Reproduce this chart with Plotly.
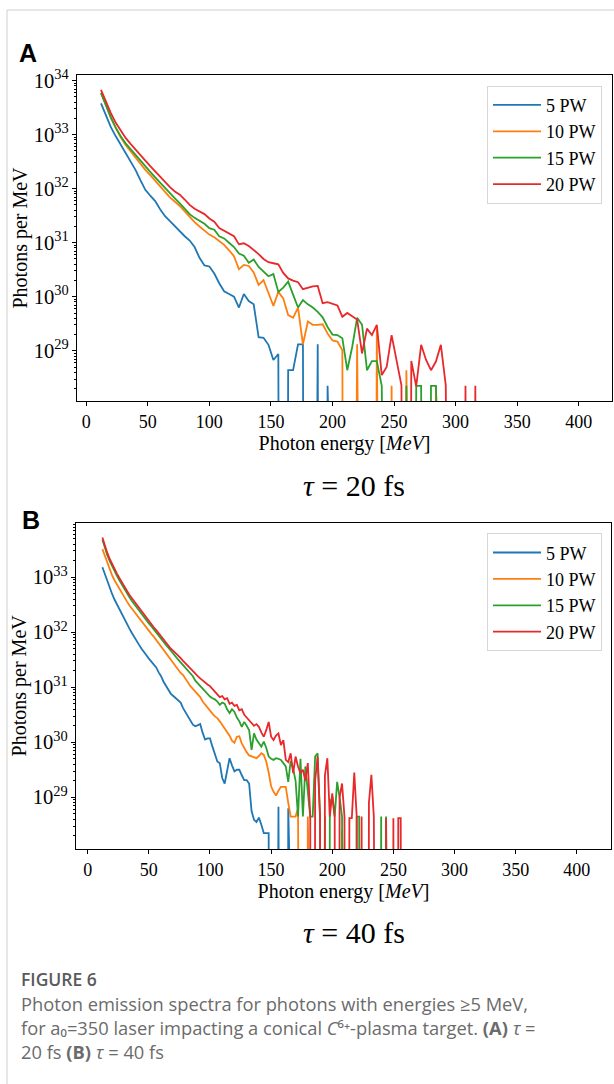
import plotly.graph_objects as go

# ---------------- data (log10 of photons per MeV; 0 = empty bin) ----------------
energy_A = [12, 16, 20, 24, 28, 32, 36, 40, 44, 48,
            52, 56, 60, 64, 68, 72, 76, 80, 84, 88,
            92, 96, 100, 104, 108, 112, 116, 120, 124, 128,
            132, 136, 140, 144, 148, 152, 156, 160, 164, 168,
            172, 176, 180, 184, 188, 192, 196, 200, 204, 208,
            212, 216, 220, 224, 228, 232, 236, 240, 244, 248,
            252, 256, 260, 264, 268, 272, 276, 280, 284, 288,
            292, 296, 300, 304, 308, 312, 316, 320]

A_5PW = [33.58, 33.35, 33.14, 32.97, 32.82, 32.66, 32.50, 32.35, 32.16, 31.98,
         31.87, 31.77, 31.62, 31.49, 31.40, 31.30, 31.20, 31.12, 31.04, 30.92,
         30.72, 30.58, 30.56, 30.43, 30.25, 30.10, 30.05, 30.00, 29.80, 30.05,
         29.92, 29.86, 29.25, 29.24, 29.11, 28.83, 28.94, 0, 28.64, 28.64,
         29.12, 29.12, 0, 0, 29.12, 0, 28.35, 0, 0, 0,
         0, 0, 0, 0, 0, 0, 0, 0, 0, 0,
         0, 0, 0, 0, 0, 0, 0, 0, 0, 0,
         0, 0, 0, 0, 0, 0, 0, 0]
A_10PW = [33.78, 33.53, 33.31, 33.12, 32.95, 32.81, 32.69, 32.57, 32.46, 32.35,
          32.25, 32.14, 32.04, 31.94, 31.84, 31.76, 31.68, 31.58, 31.47, 31.38,
          31.30, 31.22, 31.15, 31.10, 31.03, 30.96, 30.86, 30.75, 30.51, 30.59,
          30.57, 30.45, 30.22, 30.31, 30.07, 29.83, 30.09, 29.97, 29.66, 29.61,
          29.80, 29.12, 29.54, 29.48, 29.48, 29.49, 29.32, 29.19, 29.17, 29.01,
          0, 0, 29.12, 0, 0, 0, 29.40, 0, 0, 28.35,
          0, 0, 28.64, 0, 0, 0, 0, 0, 28.35, 0,
          0, 0, 0, 0, 0, 0, 0, 0]
A_15PW = [33.77, 33.53, 33.32, 33.13, 32.97, 32.84, 32.73, 32.62, 32.51, 32.41,
          32.31, 32.21, 32.11, 32.01, 31.91, 31.82, 31.73, 31.63, 31.53, 31.46,
          31.41, 31.35, 31.27, 31.24, 31.12, 31.08, 31.00, 30.92, 30.80, 30.76,
          30.63, 30.69, 30.55, 30.46, 30.38, 30.42, 30.09, 30.17, 30.28, 30.04,
          29.80, 29.94, 29.86, 29.80, 29.72, 29.62, 29.44, 29.30, 29.29, 29.23,
          28.64, 29.07, 29.61, 29.48, 28.64, 28.81, 28.81, 28.35, 0, 0,
          0, 0, 28.35, 0, 28.35, 28.35, 0, 28.35, 28.35, 0,
          0, 0, 0, 0, 0, 0, 0, 0]
A_20PW = [33.83, 33.60, 33.40, 33.22, 33.07, 32.94, 32.83, 32.72, 32.62, 32.52,
          32.42, 32.32, 32.22, 32.12, 32.03, 31.95, 31.89, 31.80, 31.70, 31.63,
          31.58, 31.53, 31.45, 31.39, 31.27, 31.22, 31.18, 31.12, 30.97, 30.99,
          30.94, 30.87, 30.79, 30.70, 30.64, 30.62, 30.60, 30.44, 30.34, 30.30,
          30.27, 30.14, 30.17, 30.19, 30.20, 29.88, 29.90, 29.87, 29.84, 29.63,
          29.70, 29.64, 29.58, 28.95, 29.41, 29.29, 29.48, 28.55, 28.70, 29.29,
          28.80, 28.36, 0, 28.81, 28.34, 29.11, 28.83, 28.64, 28.80, 29.11,
          28.36, 0, 0, 0, 28.35, 0, 28.35, 0]

energy_B = [12, 14, 16, 18, 20, 22, 24, 26, 28, 30,
            32, 34, 36, 38, 40, 42, 44, 46, 48, 50,
            52, 54, 56, 58, 60, 62, 64, 66, 68, 70,
            72, 74, 76, 78, 80, 82, 84, 86, 88, 90,
            92, 94, 96, 98, 100, 102, 104, 106, 108, 110,
            112, 114, 116, 118, 120, 122, 124, 126, 128, 130,
            132, 134, 136, 138, 140, 142, 144, 146, 148, 150,
            152, 154, 156, 158, 160, 162, 164, 166, 168, 170,
            172, 174, 176, 178, 180, 182, 184, 186, 188, 190,
            192, 194, 196, 198, 200, 202, 204, 206, 208, 210,
            212, 214, 216, 218, 220, 222, 224, 226, 228, 230,
            232, 234, 236, 238, 240, 242, 244, 246, 248, 250,
            252, 254, 256, 258]

B_5PW = [33.18, 33.05, 32.93, 32.80, 32.69, 32.59, 32.50, 32.40, 32.31, 32.23,
         32.15, 32.07, 31.99, 31.91, 31.84, 31.77, 31.70, 31.65, 31.58, 31.52,
         31.47, 31.42, 31.36, 31.27, 31.20, 31.10, 31.02, 30.94, 30.88, 30.84,
         30.80, 30.76, 30.72, 30.62, 30.55, 30.47, 30.40, 30.32, 30.29, 30.31,
         30.33, 30.17, 30.05, 30.07, 30.07, 29.92, 29.77, 29.65, 29.62, 29.35,
         29.25, 29.50, 29.71, 29.58, 29.47, 29.50, 29.50, 29.40, 29.31, 29.31,
         29.25, 28.75, 28.59, 28.55, 28.63, 28.50, 28.35, 28.35, 28.35, 0,
         0, 0, 28.83, 0, 0, 0, 28.80, 0, 0, 0,
         0, 0, 0, 0, 0, 0, 0, 0, 0, 0,
         0, 0, 0, 0, 0, 0, 0, 0, 0, 0,
         0, 0, 0, 0, 0, 0, 0, 0, 0, 0,
         0, 0, 0, 0, 0, 0, 0, 0, 0, 0,
         0, 0, 0, 0]
B_10PW = [33.51, 33.38, 33.26, 33.14, 33.03, 32.94, 32.86, 32.78, 32.70, 32.63,
          32.56, 32.49, 32.43, 32.37, 32.31, 32.25, 32.19, 32.13, 32.07, 32.02,
          31.97, 31.92, 31.86, 31.80, 31.74, 31.68, 31.63, 31.57, 31.51, 31.45,
          31.39, 31.31, 31.26, 31.22, 31.15, 31.08, 31.02, 30.97, 30.92, 30.87,
          30.82, 30.74, 30.68, 30.62, 30.57, 30.52, 30.47, 30.44, 30.38, 30.32,
          30.26, 30.20, 30.12, 30.03, 29.99, 30.10, 30.11, 29.98, 29.89, 29.82,
          29.76, 29.74, 29.72, 29.71, 29.75, 29.80, 29.77, 29.65, 29.45, 29.20,
          29.10, 29.03, 29.12, 29.19, 29.19, 29.19, 28.90, 28.65, 28.65, 28.65,
          28.80, 0, 0, 0, 28.65, 0, 0, 0, 0, 0,
          0, 0, 0, 0, 0, 0, 0, 0, 28.40, 0,
          0, 0, 0, 0, 0, 0, 0, 0, 0, 0,
          0, 0, 0, 0, 0, 0, 0, 0, 0, 0,
          0, 0, 0, 0]
B_15PW = [33.68, 33.53, 33.40, 33.29, 33.19, 33.10, 33.02, 32.94, 32.86, 32.78,
          32.71, 32.64, 32.57, 32.51, 32.44, 32.38, 32.32, 32.27, 32.21, 32.16,
          32.11, 32.05, 32.00, 31.94, 31.89, 31.83, 31.77, 31.72, 31.66, 31.60,
          31.55, 31.50, 31.45, 31.40, 31.35, 31.30, 31.25, 31.20, 31.12, 31.07,
          31.02, 30.96, 30.92, 30.88, 30.83, 30.80, 30.78, 30.74, 30.68, 30.72,
          30.70, 30.60, 30.53, 30.60, 30.55, 30.45, 30.38, 30.28, 30.37, 30.30,
          30.22, 29.86, 30.16, 30.05, 29.98, 29.92, 30.01, 29.90, 29.74, 29.70,
          29.68, 29.71, 29.70, 29.68, 29.62, 29.56, 29.28, 29.66, 29.52, 29.30,
          28.65, 29.70, 28.65, 29.56, 29.10, 28.65, 28.65, 29.74, 29.80, 28.65,
          0, 28.65, 0, 28.89, 29.01, 28.65, 29.28, 29.00, 28.65, 0,
          0, 0, 0, 0, 28.65, 28.65, 0, 0, 0, 0,
          0, 0, 0, 0, 28.65, 0, 28.65, 0, 0, 0,
          0, 0, 0, 0]
B_20PW = [33.72, 33.57, 33.44, 33.33, 33.23, 33.14, 33.06, 32.98, 32.90, 32.82,
          32.75, 32.68, 32.62, 32.56, 32.49, 32.43, 32.37, 32.31, 32.26, 32.20,
          32.15, 32.09, 32.04, 31.98, 31.92, 31.86, 31.80, 31.75, 31.70, 31.66,
          31.62, 31.58, 31.53, 31.48, 31.43, 31.38, 31.34, 31.30, 31.25, 31.20,
          31.16, 31.12, 31.08, 31.05, 31.02, 30.97, 30.93, 30.88, 30.82, 30.84,
          30.78, 30.80, 30.70, 30.72, 30.66, 30.68, 30.58, 30.60, 30.50, 30.45,
          30.40, 30.35, 30.30, 30.33, 30.28, 30.18, 30.10, 30.22, 30.37, 30.10,
          30.04, 30.12, 30.16, 29.95, 30.04, 29.68, 29.64, 29.80, 29.44, 29.74,
          29.56, 29.44, 29.50, 29.30, 29.62, 28.65, 0, 29.30, 29.74, 28.65,
          0, 29.40, 29.71, 28.65, 29.07, 28.65, 0, 29.00, 29.25, 28.65,
          0, 28.62, 28.62, 29.45, 28.65, 0, 28.65, 0, 0, 28.90,
          29.41, 28.65, 0, 0, 0, 0, 28.62, 0, 0, 28.62,
          0, 28.62, 28.62, 0]

series_names = ["5 PW", "10 PW", "15 PW", "20 PW"]
series_colors = ["#1f77b4", "#ff7f0e", "#2ca02c", "#e8282b"]

caption_title = "FIGURE 6"
caption_lines = [
    "Photon emission spectra for photons with energies ≥5 MeV,",
    "for a₀=350 laser impacting a conical <i>C</i>⁶⁺-plasma target. <b>(A)</b> <i>τ</i> =",
    "20 fs <b>(B)</b> <i>τ</i> = 40 fs",
]

W, H = 614, 1084
SERIF = "Liberation Serif"


def to_counts(logs):
    # empty bins -> far below the axis (like matplotlib's clipping of zeros on log scale)
    return [10 ** v if v > 0 else 1.0 for v in logs]


def px(x):
    return x / W


def py(y):
    return 1 - y / H


fig = go.Figure()
for name, color, vals in zip(series_names, series_colors, [A_5PW, A_10PW, A_15PW, A_20PW]):
    fig.add_trace(go.Scatter(x=energy_A, y=to_counts(vals), mode="lines", name=name,
                             line=dict(color=color, width=1.8), xaxis="x", yaxis="y",
                             legend="legend"))
for name, color, vals in zip(series_names, series_colors, [B_5PW, B_10PW, B_15PW, B_20PW]):
    fig.add_trace(go.Scatter(x=energy_B, y=to_counts(vals), mode="lines", name=name,
                             line=dict(color=color, width=1.8), xaxis="x2", yaxis="y2",
                             legend="legend2"))

xtickfont = dict(family=SERIF, size=18, color="black")
ytickfont = dict(family=SERIF, size=16.5, color="black")
titlefont = dict(family=SERIF, size=20, color="black")


def xaxis_cfg(domain, rng, anchor):
    return dict(domain=domain, range=rng, anchor=anchor, tickmode="linear", tick0=0, dtick=50,
                ticks="outside", ticklen=4, tickwidth=1, tickcolor="black",
                showline=True, linecolor="black", linewidth=1, mirror=True, automargin=False,
                showgrid=False, zeroline=False, tickfont=xtickfont,
                title=dict(text="Photon energy [<i>MeV</i>]", font=titlefont, standoff=0))


def yaxis_cfg(domain, rng, anchor):
    return dict(domain=domain, range=rng, anchor=anchor, type="log", dtick=1,
                exponentformat="power", showexponent="all",
                ticks="outside", ticklen=4, tickwidth=1, tickcolor="black",
                minor=dict(ticks="outside", ticklen=2, tickwidth=1, tickcolor="black", dtick="D1",
                           showgrid=False),
                showline=True, linecolor="black", linewidth=1, mirror=True, automargin=False,
                showgrid=False, zeroline=False, tickfont=ytickfont,
                title=dict(text="Photons per MeV", font=titlefont, standoff=0))


def legend_cfg(top):
    return dict(x=px(602), xanchor="right", y=py(top), yanchor="top",
                bgcolor="rgba(255,255,255,0.85)", bordercolor="#d6d6d6", borderwidth=1,
                font=dict(family=SERIF, size=18, color="black"), itemwidth=48,
                tracegroupgap=0, traceorder="normal")


fig.update_layout(
    width=W, height=H, margin=dict(l=0, r=0, t=0, b=0, pad=0, autoexpand=False),
    paper_bgcolor="white", plot_bgcolor="white", showlegend=True,
    xaxis=xaxis_cfg([px(77), px(612)], [-7.5, 427], "y"),
    yaxis=yaxis_cfg([py(401), py(75)], [28.07, 34.105], "x"),
    xaxis2=xaxis_cfg([px(76), px(611)], [-9.6, 428], "y2"),
    yaxis2=yaxis_cfg([py(849), py(522.7)], [28.06, 33.99], "x2"),
    legend=legend_cfg(85.7),
    legend2=legend_cfg(533.3),
)

CAP = "Open Sans"
annotations = [
    dict(text="<b>A</b>", x=px(27.5), y=py(53), font=dict(family="Liberation Sans", size=25, color="black")),
    dict(text="<b>B</b>", x=px(31), y=py(520), font=dict(family="Liberation Sans", size=25, color="black")),
    dict(text="<i>τ</i> = 20 fs", x=px(354), y=py(485), font=dict(family=SERIF, size=30, color="black")),
    dict(text="<i>τ</i> = 40 fs", x=px(354), y=py(932), font=dict(family=SERIF, size=30, color="black")),
    dict(text=caption_title, x=px(19), y=py(979), xanchor="left",
         font=dict(family=CAP, size=17.5, color="#5a5a5a", weight=600)),
    dict(text="<br>".join(caption_lines), x=px(19), y=py(1027.5), xanchor="left", align="left",
         font=dict(family=CAP, size=18.3, color="#6b6b6b")),
]
for a in annotations:
    a.update(xref="paper", yref="paper", showarrow=False)
    a.setdefault("xanchor", "center")
    a.setdefault("yanchor", "middle")
fig.update_layout(annotations=annotations)

fig.update_layout(shapes=[
    dict(type="line", xref="paper", yref="paper", x0=px(7), x1=px(7), y0=0, y1=py(10),
         line=dict(color="#cfcfcf", width=1)),
    dict(type="line", xref="paper", yref="paper", x0=px(7), x1=1, y0=py(10), y1=py(10),
         line=dict(color="#cfcfcf", width=1)),
])

fig.write_html("out.html")
